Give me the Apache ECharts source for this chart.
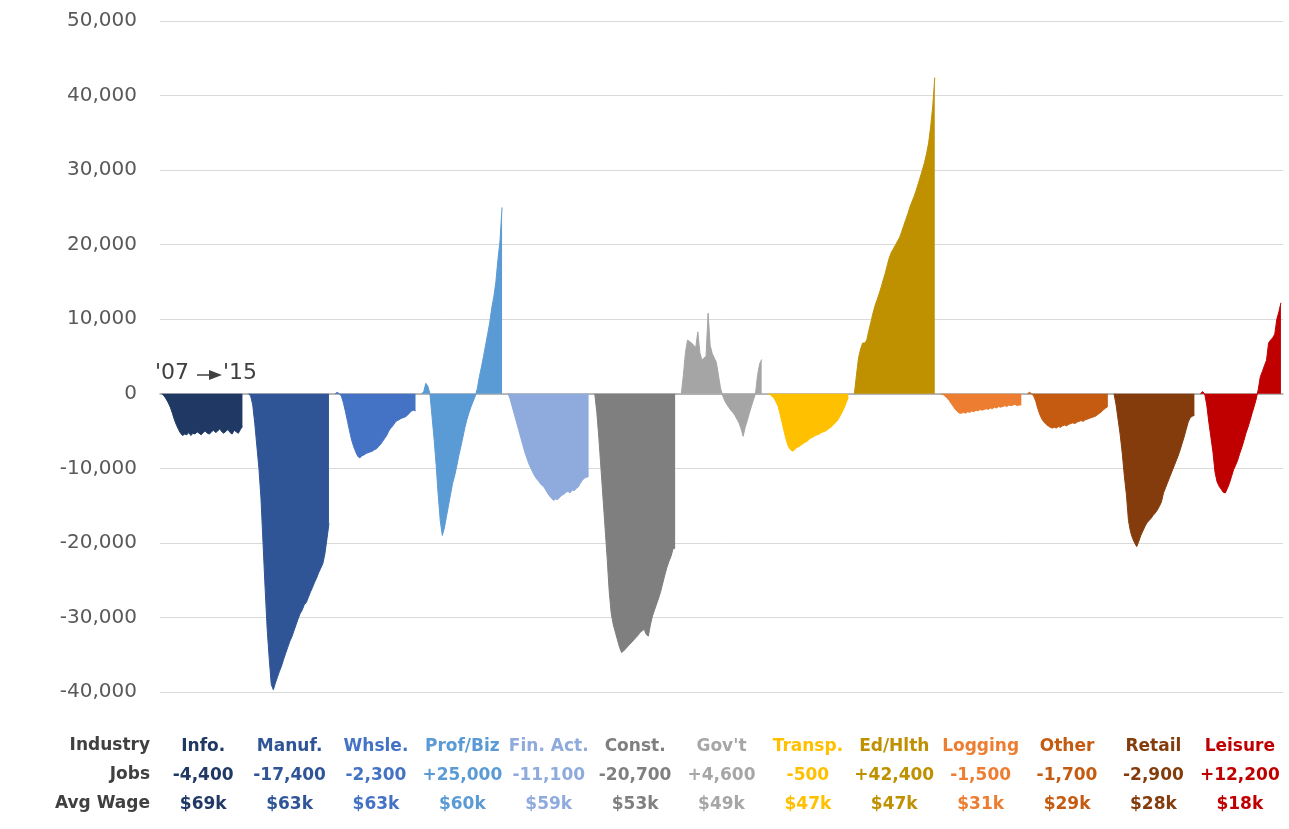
<!DOCTYPE html>
<html>
<head>
<meta charset="utf-8">
<script src="https://cdn.jsdelivr.net/npm/echarts@6/dist/echarts.min.js"></script>
<style>
  html, body { margin: 0; padding: 0; background: #ffffff; }
  #chart { width: 1289px; height: 829px; }
</style>
</head>
<body>
<div id="chart"></div>
<script>
// Industries, net job change '07 -> '15, and average wage ($k)
const industries = ['Info.', 'Manuf.', 'Whsle.', 'Prof/Biz', 'Fin. Act.', 'Const.', "Gov't",
                    'Transp.', 'Ed/Hlth', 'Logging', 'Other', 'Retail', 'Leisure'];
const jobs = [-4400, -17400, -2300, 25000, -11100, -20700, 4600, -500, 42400, -1500, -1700, -2900, 12200];
const avgWage = [69, 63, 63, 60, 59, 53, 49, 47, 47, 31, 29, 28, 18];

// Cumulative job change since '07 along each industry's path (final point comes from jobs)
const info = [0, -300, -700, -1200, -1800, -2600, -3500, -4200, -4800, -5300, -5600, -5400, -5500, -5200,
  -5600, -5300, -5400, -5100, -5300, -5500, -5200, -5000, -5300, -5400, -5100, -4900, -5200, -5000, -4700,
  -5100, -5300, -5000, -4800, -5200, -5400, -4900, -5100, -5300, -4800];
const manuf = [0, -300, -1500, -4000, -7000, -10000, -14000, -20000, -26000, -31500, -35500, -39000, -39700,
  -38800, -38000, -37200, -36500, -35600, -34800, -34000, -33200, -32600, -31800, -31000, -30200, -29500,
  -29000, -28300, -28000, -27300, -26600, -26000, -25300, -24700, -24000, -23400, -22800, -21500, -19500];
const whsle = [0, 200, 0, -300, -1200, -2400, -3700, -5000, -6200, -7100, -7800, -8400, -8600, -8300, -8200,
  -8000, -7900, -7800, -7700, -7500, -7400, -7100, -6800, -6400, -6000, -5600, -5000, -4600, -4300, -3900,
  -3600, -3500, -3300, -3200, -3100, -2900, -2600, -2300, -2200];
const profBiz = [0, 300, 1400, 1000, 0, -3000, -6000, -9500, -13500, -17000, -19000, -18000, -16500, -15000,
  -13500, -12000, -11000, -9700, -8300, -7100, -5800, -4500, -3400, -2500, -1700, -1000, -300, 700, 2300,
  3600, 5000, 6500, 8000, 9500, 11500, 13000, 15000, 18000, 20500];
const finAct = [0, -800, -1800, -2800, -3800, -4800, -5800, -6800, -7800, -8600, -9400, -10000, -10600,
  -11100, -11500, -11800, -12200, -12400, -12800, -13300, -13700, -14000, -14300, -14100, -14200, -13900,
  -13600, -13500, -13200, -13100, -13300, -12900, -13000, -12700, -12500, -12000, -11600, -11300, -11200];
const constr = [0, -2500, -6000, -10000, -14000, -18000, -22000, -26500, -29500, -31000, -32000, -33000,
  -34000, -34700, -34500, -34200, -33900, -33600, -33300, -33000, -32700, -32400, -32000, -31800, -31600,
  -32300, -32500, -31000, -29800, -29000, -28200, -27400, -26500, -25400, -24300, -23300, -22500, -21800, -20800];
const govt = [0, 2500, 5500, 7200, 7000, 6800, 6500, 6200, 8300, 5500, 4500, 4800, 5000, 10800, 6500, 5400,
  4800, 4200, 2500, 800, -200, -900, -1400, -1800, -2200, -2500, -2900, -3400, -3900, -4700, -5700, -4500,
  -3600, -2600, -1700, -800, 0, 2500, 4000];
const transp = [0, -100, -300, -600, -1100, -1700, -2800, -4000, -5200, -6300, -7100, -7500, -7700, -7500,
  -7200, -7100, -6900, -6700, -6500, -6400, -6100, -5900, -5800, -5600, -5500, -5400, -5200, -5100, -5000,
  -4800, -4600, -4400, -4100, -3800, -3500, -3000, -2500, -1900, -1200];
const edHlth = [0, 2500, 4800, 6000, 6800, 6800, 7200, 8500, 9600, 10800, 11800, 12600, 13400, 14300, 15300,
  16200, 17300, 18300, 19000, 19500, 20000, 20500, 21000, 21800, 22600, 23400, 24200, 25100, 25800, 26500,
  27300, 28200, 29100, 30000, 31000, 32200, 33600, 35800, 38500];
const logging = [0, -100, -300, -600, -900, -1300, -1700, -2100, -2400, -2600, -2600, -2500, -2600, -2400,
  -2500, -2300, -2400, -2200, -2300, -2100, -2200, -2100, -2000, -2100, -1900, -2000, -1800, -1900, -1700,
  -1800, -1700, -1600, -1700, -1500, -1600, -1500, -1400, -1600, -1500];
const other = [0, 200, 0, -300, -1000, -2000, -2800, -3400, -3800, -4100, -4300, -4500, -4600, -4500, -4600,
  -4400, -4500, -4300, -4200, -4300, -4100, -4000, -3900, -4000, -3800, -3700, -3600, -3700, -3500, -3400,
  -3300, -3200, -3100, -3000, -2800, -2600, -2400, -2100, -1900];
const retail = [0, -1500, -3500, -5500, -8000, -11000, -13500, -17000, -18500, -19400, -20000, -20500, -19800,
  -19000, -18400, -17800, -17300, -17000, -16700, -16300, -16000, -15600, -15100, -14500, -13300, -12600,
  -11900, -11200, -10500, -9800, -9100, -8400, -7600, -6700, -5800, -4800, -3800, -3200, -3000];
const leisure = [0, 300, 0, -1500, -3800, -5800, -7800, -10500, -11800, -12400, -12800, -13200, -13300,
  -12700, -12000, -11100, -10200, -9600, -8900, -8000, -7200, -6300, -5300, -4500, -3600, -2600, -1700,
  -700, 600, 2300, 3000, 3800, 4500, 6800, 7200, 7500, 8000, 10000, 11000];

const paths = [info, manuf, whsle, profBiz, finAct, constr, govt, transp, edHlth, logging, other, retail, leisure];

const colors = ['#203864', '#2f5597', '#4472c4', '#5b9bd5', '#8faadc', '#7f7f7f', '#a5a5a5',
                '#ffc000', '#bf9000', '#ed7d31', '#c55a11', '#843c0c', '#c00000'];
const labelColors = colors.slice();
labelColors[6] = '#a6a6a6';

// Each industry occupies its own stretch of the shared x axis, separated by empty slots
const GAP = 2;
const SPAN = paths[0].length + 1;
const LEAD = 1;
const total = LEAD + industries.length * SPAN + (industries.length - 1) * GAP + 1;
const xCats = Array.from({ length: total }, (_, i) => String(i));

const series = paths.map((p, k) => {
  const data = new Array(total).fill(null);
  const full = p.concat([jobs[k]]);
  const start = LEAD + k * (SPAN + GAP);
  full.forEach((v, i) => { data[start + i] = v; });
  return {
    name: industries[k],
    type: 'line',
    xAxisIndex: 0,
    data: data,
    symbol: 'none',
    showSymbol: false,
    connectNulls: false,
    lineStyle: { width: 1, color: colors[k] },
    areaStyle: { color: colors[k], opacity: 1 },
    z: 2
  };
});

const fmtJobs = v => (v > 0 ? '+' : '') + v.toLocaleString('en-US');

const rich = {};
industries.forEach((_, k) => {
  rich['c' + k] = {
    color: labelColors[k], fontWeight: 'bold', fontSize: 17,
    fontFamily: '"DejaVu Sans", sans-serif', lineHeight: 29, align: 'center'
  };
});

const tableFont = 'bold 17px "DejaVu Sans", sans-serif';
const textFont = '22px "DejaVu Sans", sans-serif';

const chart = echarts.init(document.getElementById('chart'), null, { renderer: 'canvas' });
chart.setOption({
  animation: false,
  backgroundColor: '#ffffff',
  grid: { left: 160, right: 6, top: 21, bottom: 137, containLabel: false },
  xAxis: [
    {
      type: 'category',
      data: xCats,
      boundaryGap: false,
      axisLine: { show: true, onZero: true, lineStyle: { color: '#a6a6a6', width: 1.5 } },
      axisTick: { show: false },
      axisLabel: { show: false },
      splitLine: { show: false }
    },
    {
      type: 'category',
      data: industries,
      position: 'bottom',
      boundaryGap: true,
      axisLine: { show: false, onZero: false },
      axisTick: { show: false },
      splitLine: { show: false },
      axisLabel: {
        interval: 0,
        margin: 40,
        formatter: (value, idx) => '{c' + idx + '|' + value + '}\n{c' + idx + '|' + fmtJobs(jobs[idx]) +
          '}\n{c' + idx + '|$' + avgWage[idx] + 'k}',
        rich: rich
      }
    }
  ],
  yAxis: {
    type: 'value',
    min: -40000,
    max: 50000,
    interval: 10000,
    axisLine: { show: false },
    axisTick: { show: false },
    axisLabel: {
      margin: 23,
      color: '#595959',
      fontSize: 20,
      fontFamily: '"DejaVu Sans", sans-serif',
      formatter: v => v.toLocaleString('en-US')
    },
    splitLine: { show: true, lineStyle: { color: '#d9d9d9', width: 1 } }
  },
  graphic: [
    { type: 'text', style: { text: 'Industry', x: 150, y: 746, align: 'right', verticalAlign: 'middle', font: tableFont, fill: '#404040' } },
    { type: 'text', style: { text: 'Jobs', x: 150, y: 775, align: 'right', verticalAlign: 'middle', font: tableFont, fill: '#404040' } },
    { type: 'text', style: { text: 'Avg Wage', x: 150, y: 804, align: 'right', verticalAlign: 'middle', font: tableFont, fill: '#404040' } },
    { type: 'text', style: { text: "'07", x: 155, y: 373, align: 'left', verticalAlign: 'middle', font: textFont, fill: '#404040' } },
    { type: 'line', shape: { x1: 197, y1: 375, x2: 213, y2: 375 }, style: { stroke: '#404040', lineWidth: 1.5 } },
    { type: 'polygon', shape: { points: [[209, 370], [222, 375], [209, 380]] }, style: { fill: '#404040' } },
    { type: 'text', style: { text: "'15", x: 223, y: 373, align: 'left', verticalAlign: 'middle', font: textFont, fill: '#404040' } }
  ],
  series: series
});
</script>
</body>
</html>
